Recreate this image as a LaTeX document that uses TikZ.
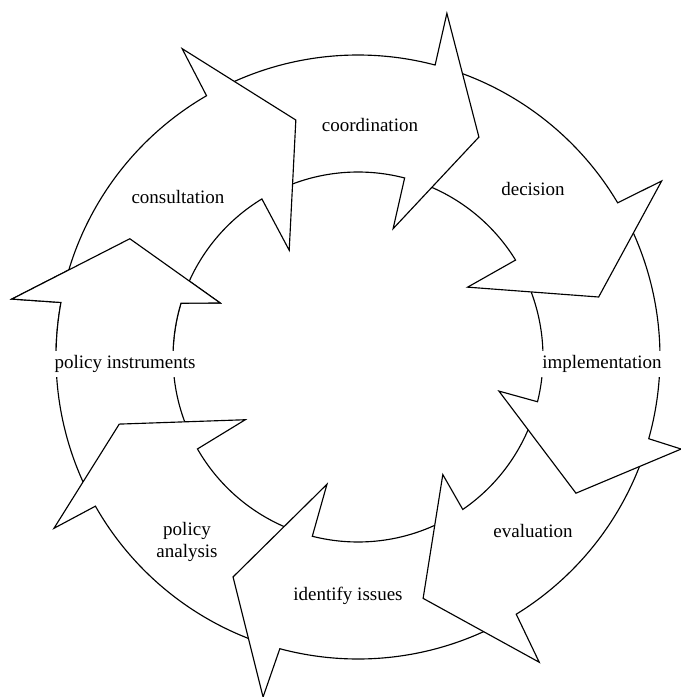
\documentclass[tikz,border=0pt]{standalone}
\usepackage{fontspec}
\setmainfont{Liberation Serif}

% one segment of the ring: outer tail, outer notch, outer shoulder, tip,
% inner shoulder, inner notch, inner tail
\newcommand{\ringarrow}[7]{%
  \path[seg] (#1:302) arc[start angle=#1, end angle=#2, radius=302]
    -- (#3) -- (#4) -- (#5)
    -- (#6:185) arc[start angle=#6, end angle=#7, radius=185] -- cycle;}

\begin{document}
\begin{tikzpicture}[
  x=0.0185cm, y=0.0185cm,
  seg/.style={draw, fill=white, line width=0.6pt, line join=miter},
  lbl/.style={align=center, fill=white, inner sep=2.5pt}
]
\useasboundingbox (-358,-340) rectangle (323,357);

% --- segments, each head lies on the tail of the next one -----------------
\ringarrow{206}{169.6}{170.5:351}{152.6:257}{158.6:148}{163.1}{206}       % policy instruments
\ringarrow{-108}{-150.4}{-150.6:349}{-164.3:248}{-150.9:129}{-150.2}{-108} % policy analysis
\ringarrow{-62}{-105}{-105.6:353}{-119.6:253}{-103.7:131}{-104.3}{-62}    % identify issues
\ringarrow{-18}{-58.4}{-59.3:355}{-74.9:250}{-54.2:145}{-55.5}{-18}       % evaluation
\ringarrow{27}{-15.7}{-15.9:336}{-32:257}{-13.6:145}{-14}{27}             % implementation
\ringarrow{72}{30.7}{30.1:351}{14:248}{32.5:130}{31.6}{72}                % decision
\ringarrow{117}{75.2}{75.5:355}{61.2:251}{74.7:133}{75.4}{117}            % coordination
\ringarrow{165.5}{120.1}{119.7:355}{104.7:245}{122.8:127}{121.3}{159}     % consultation

% head of the first segment goes over the tail of consultation
\begin{scope}
  \clip (0,0) -- (146:420) arc[start angle=146, end angle=179, radius=420] -- cycle;
  \ringarrow{206}{169.6}{170.5:351}{152.6:257}{158.6:148}{163.1}{206}
\end{scope}

% --- labels ----------------------------------------------------------------
\node[lbl] (instr)  at (-233,-7)   {policy instruments};
\node[lbl] (consul) at (-180,160)  {consultation};
\node[lbl] (coord)  at (12,232)    {coordination};
\node[lbl] (decis)  at (175,168)   {decision};
\node[lbl] (implem) at (244,-7)    {implementation};
\node[lbl] (evalu)  at (175,-174)  {evaluation};
\node[lbl] (issues) at (-10,-239)  {identify issues};
\node[lbl] (analys) at (-171,-185) {policy\\analysis};
\end{tikzpicture}
\end{document}
